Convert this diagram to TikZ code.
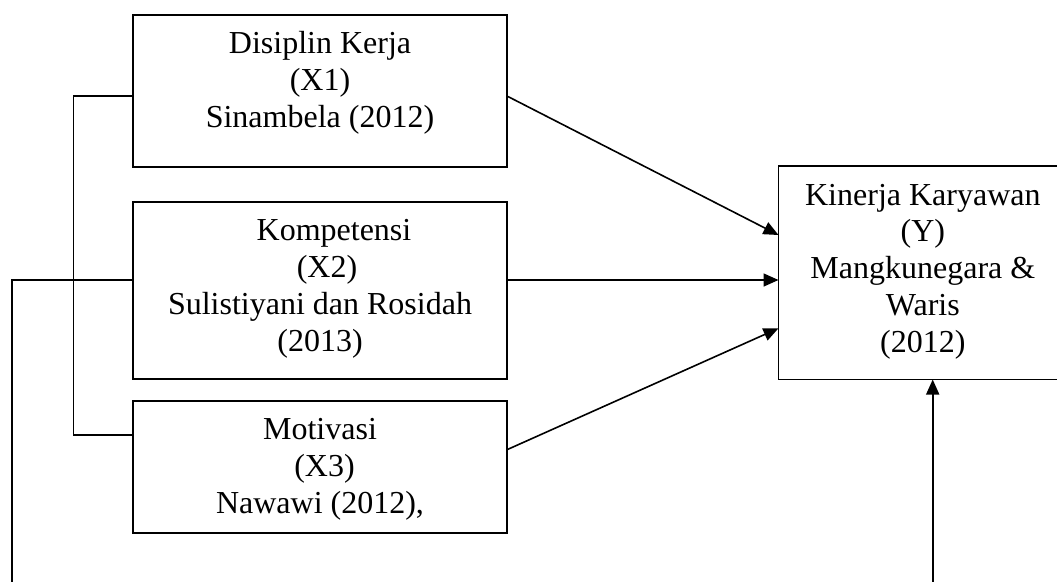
\documentclass[tikz,border=0pt]{standalone}
\usepackage{fontspec}
\setmainfont{Liberation Serif}
\usetikzlibrary{arrows.meta,calc}
\begin{document}
\begin{tikzpicture}[x=1pt,y=-1pt,
  box/.style={draw, line width=1.8pt, inner sep=0pt, rectangle},
  ybox/.style={inner sep=0pt, rectangle},
  txt/.style={anchor=north, inner sep=0pt, align=center, font=\fontsize{32}{36.8}\selectfont},
  conn/.style={line width=1.6pt},
  arr/.style={conn, -{Triangle[length=15pt,width=13pt]}}]
\useasboundingbox (0,0) rectangle (1057,581);
% boxes
\node[box, minimum width=374pt, minimum height=152pt] (X1) at (320,91) {};
\node[box, minimum width=374pt, minimum height=177pt] (X2) at (320,290.5) {};
\node[box, minimum width=374pt, minimum height=132pt] (X3) at (320,467) {};
\node[ybox, minimum width=288.3pt, minimum height=213.3pt] (Y) at (922.85,272.65) {};
\coordinate (E) at (1060,0);
\draw[line width=1.8pt] (Y.north west -| E) -- (Y.north west) -- (Y.south west) -- (Y.south west -| E);
% texts
\node[txt] (tX1) at ([yshift=-13.5pt]X1.north) {\rule{0pt}{26pt}Disiplin Kerja\\(X1)\\Sinambela (2012)};
\node[txt] (tX2) at ([yshift=-13.5pt]X2.north) {\rule{0pt}{26pt}\hspace*{28pt}Kompetensi\\\hspace*{14pt}(X2)\\Sulistiyani dan Rosidah\\(2013)};
\node[txt] (tX3) at ([yshift=-13.5pt]X3.north) {\rule{0pt}{26pt}Motivasi\\\hspace*{9pt}(X3)\\Nawawi (2012),};
\node[txt] (tY) at ([yshift=-13pt]Y.north) {\rule{0pt}{26pt}Kinerja Karyawan\\(Y)\\Mangkunegara \&\\Waris\\(2012)};
% arrows into Y
\draw[arr] ([yshift=-5.5pt]X1.east) -- ([yshift=37.65pt]Y.west);
\draw[arr] ([yshift=10.5pt]X2.east) -- ([yshift=10.5pt]X2.east -| Y.west);
\draw[arr] ([yshift=17.7pt]X3.east) -- ([yshift=-55.65pt]Y.west);
% left bracket
\coordinate (bx) at (73.3,0);
\draw[conn] ([yshift=-5pt]X1.west) -- ([yshift=-5pt]X1.west -| bx) |- ([yshift=32pt]X3.west);
% outer line
\coordinate (ob) at (11.7,584);
\draw[conn] ([yshift=10.5pt]X2.west) -- ([yshift=10.5pt]X2.west -| ob) -- (ob);
% vertical arrow from bottom
\coordinate (vb) at (932.7,584);
\draw[arr] (vb) -- (vb |- Y.south);
\end{tikzpicture}
\end{document}
